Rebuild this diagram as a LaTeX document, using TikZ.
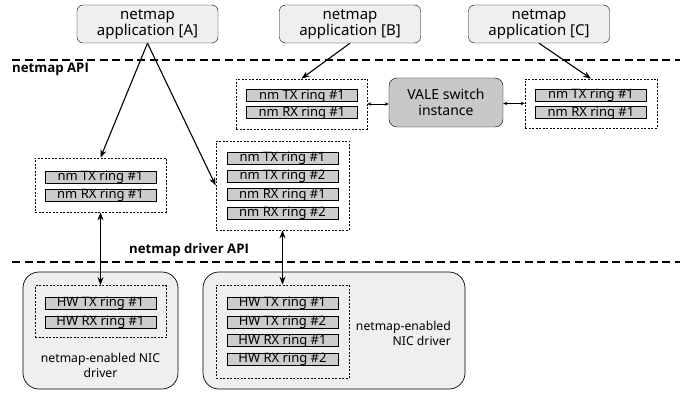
\documentclass[tikz,border=0pt]{standalone}
\usepackage{fontspec}
\setmainfont{Noto Sans}
\newfontfamily\apifont{Open Sans}
\usepackage{tikz}
\usetikzlibrary{arrows.meta}

\definecolor{boxgray}{HTML}{EFEFEF}
\definecolor{ringgray}{HTML}{CCCCCC}
\definecolor{valegray}{HTML}{C8C8C8}

\begin{document}
\begin{tikzpicture}[x=1pt,y=-1pt,
  app/.style={draw,rounded corners=6pt,fill=boxgray,minimum width=141pt,minimum height=38pt,align=center,inner sep=0pt,font=\fontsize{15}{16}\selectfont},
  ringgrp/.style={draw,dash pattern=on 2pt off 1.5pt,line width=0.7pt,inner sep=0pt},
  ring/.style={draw,fill=ringgray,line width=0.7pt,minimum width=111pt,minimum height=12pt,text height=9.5pt,text depth=2pt,inner sep=0pt,font=\fontsize{13}{14}\selectfont},
  nicbox/.style={draw,rounded corners=16pt,fill=boxgray,line width=0.7pt,inner sep=0pt},
  apiline/.style={line width=1.2pt,dash pattern=on 8pt off 4.5pt},
  apilabel/.style={anchor=west,inner sep=0pt,font=\apifont\fontsize{13.2}{15}\selectfont\bfseries},
  link/.style={line width=1.1pt,-{Stealth[length=8pt,width=6pt]}},
  duplex/.style={line width=1.1pt,{Stealth[length=8pt,width=6pt]}-{Stealth[length=8pt,width=6pt]}},
  small/.style={line width=0.6pt,{Stealth[length=4pt,width=3.5pt]}-{Stealth[length=4pt,width=3.5pt]}}]
\useasboundingbox (0,0) rectangle (686,393);

% applications
\node[app] (appA) at (147.5,24) {netmap\\application [A]};
\node[app] (appB) at (350,24) {netmap\\application [B]};
\node[app] (appC) at (539,24) {netmap\\application [C]};

% API boundaries
\coordinate (apiL) at (12,60); \coordinate (apiR) at (680,60);
\draw[apiline] (apiL) -- (apiR);
\node[apilabel] (api) at (12,69.5) {netmap API};
\coordinate (drvL) at (12,262); \coordinate (drvR) at (680,262);
\draw[apiline] (drvL) -- (drvR);
\node[apilabel] (drvapi) at (129,250) {netmap driver API};

% VALE switch with its ports
\node[draw,rounded corners=8pt,fill=valegray,minimum width=114pt,minimum height=49pt,align=center,inner sep=0pt,font=\fontsize{14}{16}\selectfont] (vale) at (446,102.5) {VALE switch\\instance};
\node[ringgrp,minimum width=131pt,minimum height=50pt] (grpB) at (301.5,104) {};
\node[ring] (txB) at (302,95.5) {nm TX ring \#1};
\node[ring] (rxB) at (302,112.5) {nm RX ring \#1};
\node[ringgrp,minimum width=132pt,minimum height=49pt] (grpC) at (591,103.5) {};
\node[ring] (txC) at (591,95) {nm TX ring \#1};
\node[ring] (rxC) at (591,112.5) {nm RX ring \#1};

% netmap rings of the NICs
\node[ringgrp,minimum width=131pt,minimum height=54pt] (grpA) at (100.5,185) {};
\node[ring] (txA) at (100.5,177) {nm TX ring \#1};
\node[ring] (rxA) at (100.5,195) {nm RX ring \#1};
\node[ringgrp,minimum width=133pt,minimum height=89pt] (grpD) at (282.5,185.5) {};
\node[ring] (txD1) at (282.5,158) {nm TX ring \#1};
\node[ring] (txD2) at (282.5,176) {nm TX ring \#2};
\node[ring] (rxD1) at (282.5,194.5) {nm RX ring \#1};
\node[ring] (rxD2) at (282.5,213) {nm RX ring \#2};

% NIC drivers
\node[nicbox,minimum width=155pt,minimum height=117pt] (nicA) at (100.5,330.5) {};
\node[ringgrp,minimum width=131pt,minimum height=52pt] (hwA) at (100.5,311.5) {};
\node[ring] (hwtxA) at (100.5,303) {HW TX ring \#1};
\node[ring] (hwrxA) at (100.5,322) {HW RX ring \#1};
\node[align=center,inner sep=0pt,font=\fontsize{12.2}{15}\selectfont] (nicAtxt) at (100.5,365) {netmap-enabled NIC\\driver};
\node[nicbox,minimum width=262pt,minimum height=117pt] (nicD) at (334,330.5) {};
\node[ringgrp,minimum width=133pt,minimum height=93pt] (hwD) at (282.5,331.5) {};
\node[ring] (hwtxD1) at (282.5,303) {HW TX ring \#1};
\node[ring] (hwtxD2) at (282.5,322) {HW TX ring \#2};
\node[ring] (hwrxD1) at (282.5,340.5) {HW RX ring \#1};
\node[ring] (hwrxD2) at (282.5,359) {HW RX ring \#2};
\node[align=right,anchor=east,inner sep=0pt,font=\fontsize{12.2}{15}\selectfont] (nicDtxt) at (451,333) {netmap-enabled\\NIC driver};

% connections
\draw[link] (appA.south) -- (grpA.north);
\draw[link] (appA.south) -- (grpD.west);
\draw[link] (appB.south) -- (grpB.north);
\draw[link] (appC.south) -- (grpC.north);
\draw[small] (grpB.east) -- (vale.west |- grpB.east);
\draw[small] (vale.east |- grpC.west) -- (grpC.west);
\draw[duplex] (grpA.south) -- (hwA.north);
\draw[duplex] (grpD.south) -- (hwD.north);
\end{tikzpicture}
\end{document}
